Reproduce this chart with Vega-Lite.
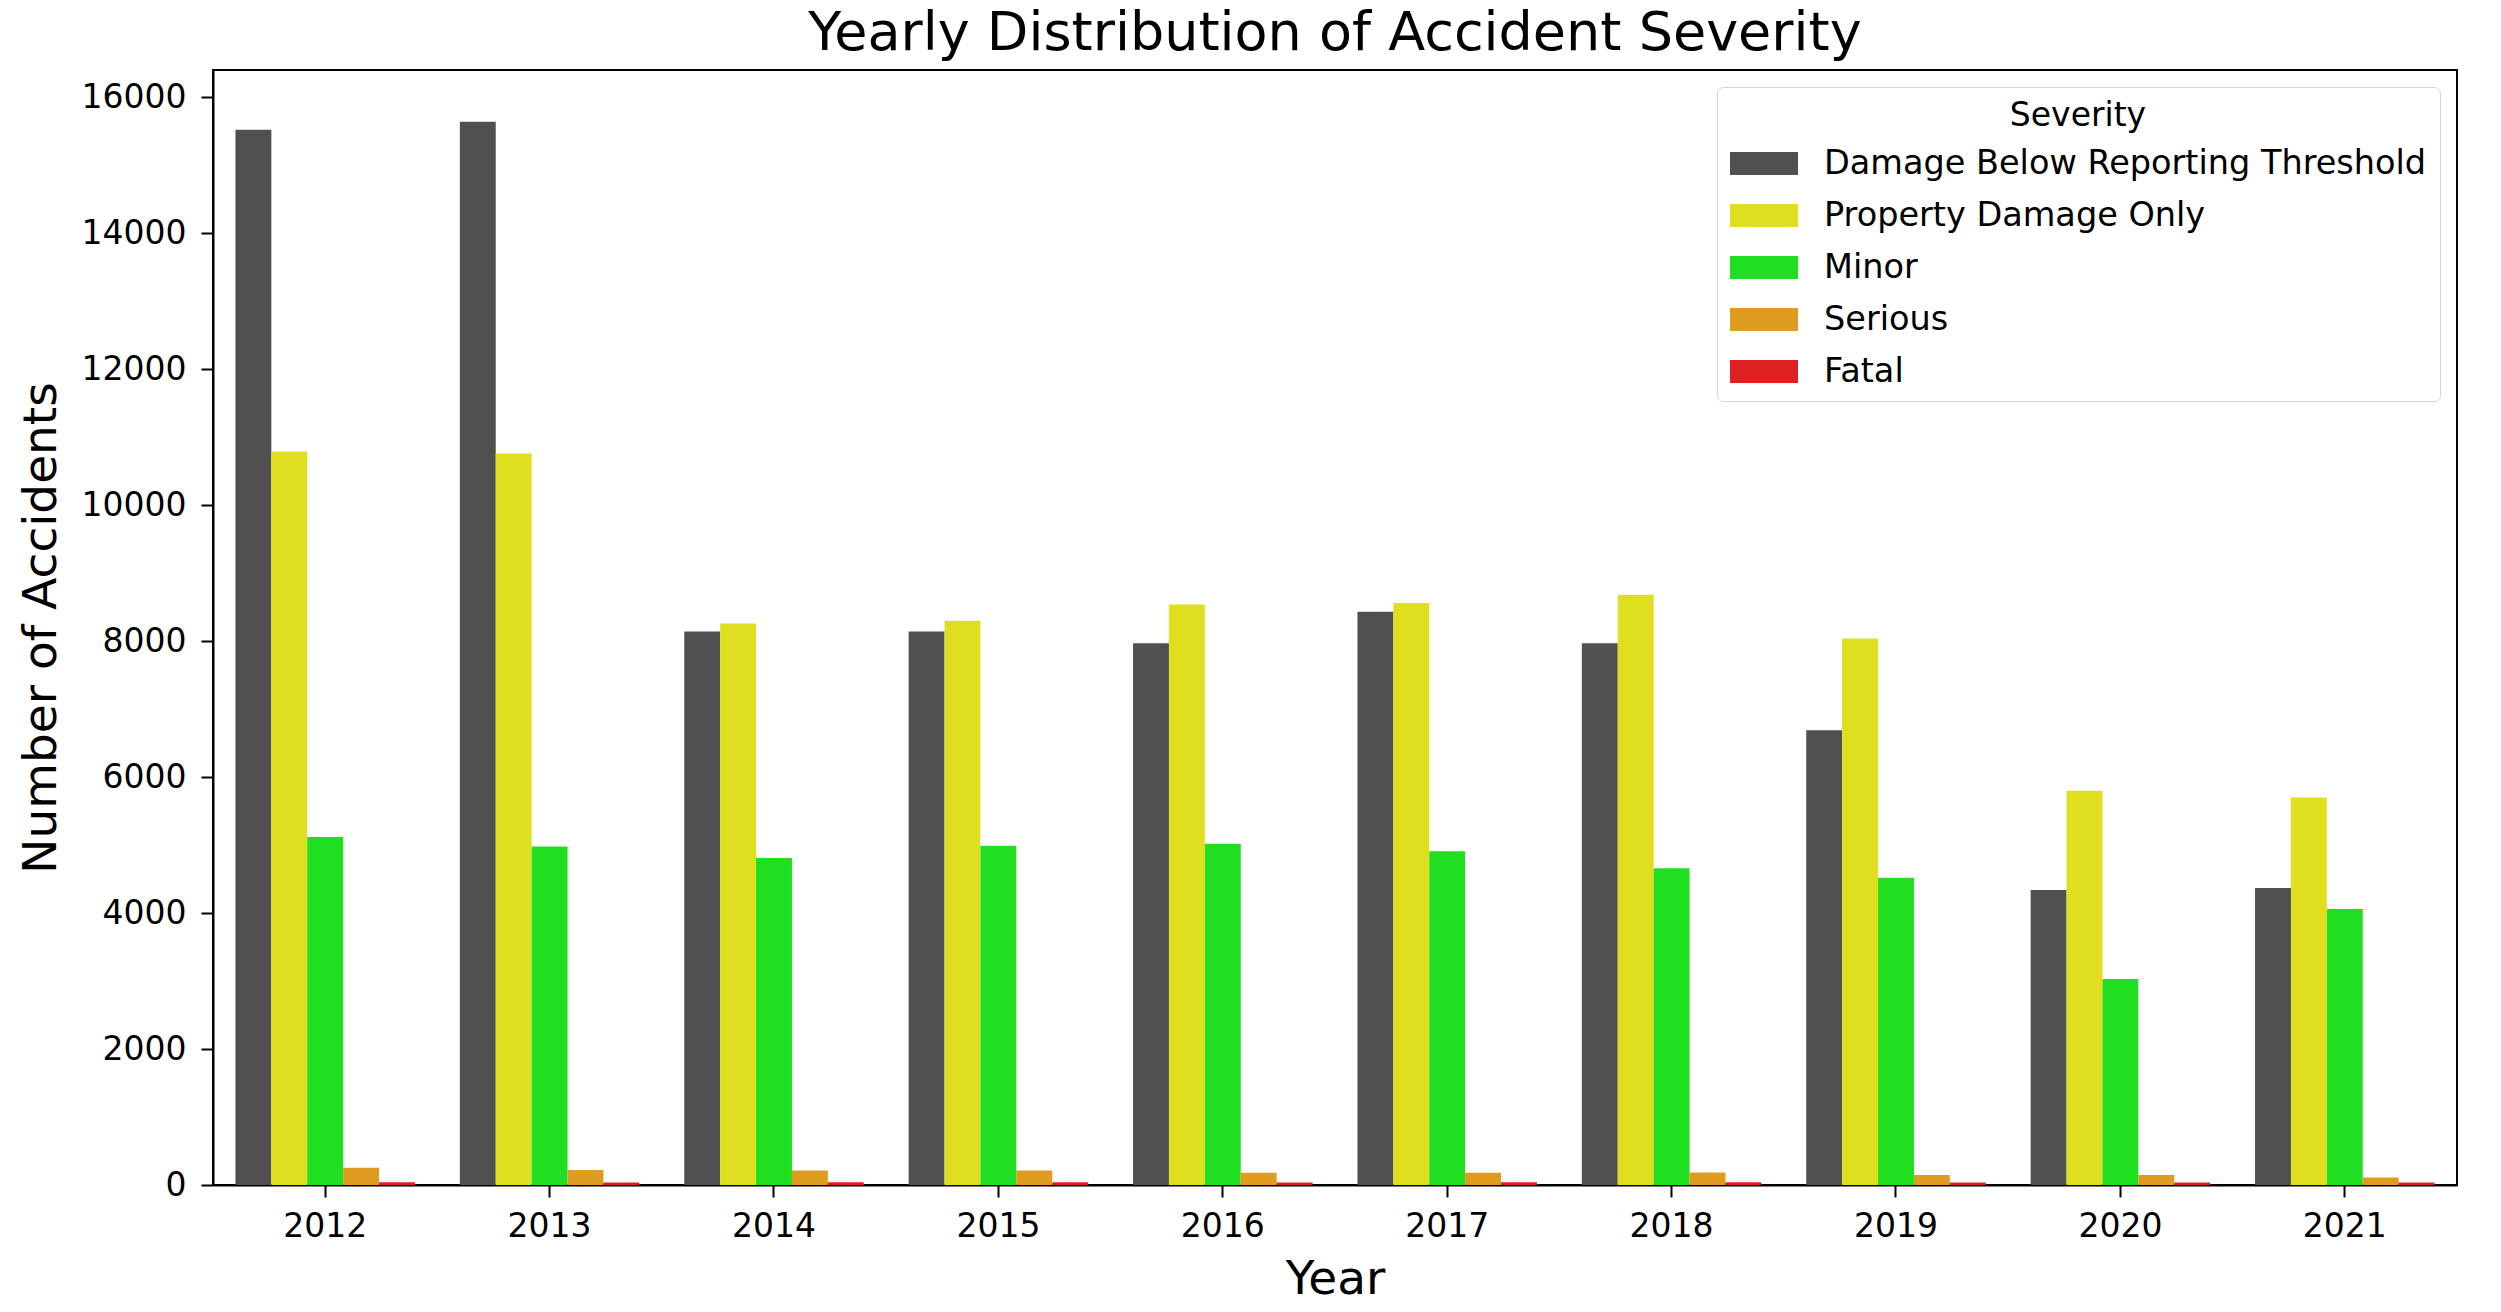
{
  "$schema": "https://vega.github.io/schema/vega-lite/v6.json",
  "autosize": {"type": "none"},
  "width": 2244,
  "height": 1115,
  "padding": {"left": 213, "top": 70, "right": 44, "bottom": 127},
  "background": "white",
  "title": {
    "text": "Yearly Distribution of Accident Severity",
    "font": "DejaVu Sans",
    "fontSize": 54,
    "fontWeight": "normal",
    "color": "#000000",
    "anchor": "middle",
    "frame": "group",
    "baseline": "bottom",
    "offset": 11,
    "dy": 56
  },
  "config": {
    "font": "DejaVu Sans",
    "view": {"stroke": "#000000", "strokeWidth": 2},
    "axis": {
      "labelFont": "DejaVu Sans",
      "titleFont": "DejaVu Sans",
      "labelColor": "#000000",
      "titleColor": "#000000",
      "domainColor": "#000000",
      "domainWidth": 2,
      "tickColor": "#000000",
      "tickWidth": 2,
      "tickSize": 12,
      "labelFontSize": 33,
      "titleFontSize": 47,
      "titleFontWeight": "normal",
      "grid": false
    }
  },
  "data": {
    "values": [
      {"Year": "2012", "Severity": "Damage Below Reporting Threshold", "Count": 15520},
      {"Year": "2012", "Severity": "Property Damage Only", "Count": 10790},
      {"Year": "2012", "Severity": "Minor", "Count": 5120},
      {"Year": "2012", "Severity": "Serious", "Count": 255},
      {"Year": "2012", "Severity": "Fatal", "Count": 42},
      {"Year": "2013", "Severity": "Damage Below Reporting Threshold", "Count": 15640},
      {"Year": "2013", "Severity": "Property Damage Only", "Count": 10760},
      {"Year": "2013", "Severity": "Minor", "Count": 4980},
      {"Year": "2013", "Severity": "Serious", "Count": 220},
      {"Year": "2013", "Severity": "Fatal", "Count": 38},
      {"Year": "2014", "Severity": "Damage Below Reporting Threshold", "Count": 8140},
      {"Year": "2014", "Severity": "Property Damage Only", "Count": 8260},
      {"Year": "2014", "Severity": "Minor", "Count": 4810},
      {"Year": "2014", "Severity": "Serious", "Count": 215},
      {"Year": "2014", "Severity": "Fatal", "Count": 40},
      {"Year": "2015", "Severity": "Damage Below Reporting Threshold", "Count": 8140},
      {"Year": "2015", "Severity": "Property Damage Only", "Count": 8300},
      {"Year": "2015", "Severity": "Minor", "Count": 4990},
      {"Year": "2015", "Severity": "Serious", "Count": 215},
      {"Year": "2015", "Severity": "Fatal", "Count": 41},
      {"Year": "2016", "Severity": "Damage Below Reporting Threshold", "Count": 7970},
      {"Year": "2016", "Severity": "Property Damage Only", "Count": 8540},
      {"Year": "2016", "Severity": "Minor", "Count": 5020},
      {"Year": "2016", "Severity": "Serious", "Count": 180},
      {"Year": "2016", "Severity": "Fatal", "Count": 37},
      {"Year": "2017", "Severity": "Damage Below Reporting Threshold", "Count": 8430},
      {"Year": "2017", "Severity": "Property Damage Only", "Count": 8560},
      {"Year": "2017", "Severity": "Minor", "Count": 4910},
      {"Year": "2017", "Severity": "Serious", "Count": 180},
      {"Year": "2017", "Severity": "Fatal", "Count": 39},
      {"Year": "2018", "Severity": "Damage Below Reporting Threshold", "Count": 7970},
      {"Year": "2018", "Severity": "Property Damage Only", "Count": 8680},
      {"Year": "2018", "Severity": "Minor", "Count": 4660},
      {"Year": "2018", "Severity": "Serious", "Count": 185},
      {"Year": "2018", "Severity": "Fatal", "Count": 40},
      {"Year": "2019", "Severity": "Damage Below Reporting Threshold", "Count": 6690},
      {"Year": "2019", "Severity": "Property Damage Only", "Count": 8040},
      {"Year": "2019", "Severity": "Minor", "Count": 4520},
      {"Year": "2019", "Severity": "Serious", "Count": 148},
      {"Year": "2019", "Severity": "Fatal", "Count": 38},
      {"Year": "2020", "Severity": "Damage Below Reporting Threshold", "Count": 4340},
      {"Year": "2020", "Severity": "Property Damage Only", "Count": 5800},
      {"Year": "2020", "Severity": "Minor", "Count": 3030},
      {"Year": "2020", "Severity": "Serious", "Count": 148},
      {"Year": "2020", "Severity": "Fatal", "Count": 37},
      {"Year": "2021", "Severity": "Damage Below Reporting Threshold", "Count": 4370},
      {"Year": "2021", "Severity": "Property Damage Only", "Count": 5700},
      {"Year": "2021", "Severity": "Minor", "Count": 4060},
      {"Year": "2021", "Severity": "Serious", "Count": 112},
      {"Year": "2021", "Severity": "Fatal", "Count": 35}
    ]
  },
  "mark": {"type": "bar"},
  "encoding": {
    "x": {
      "field": "Year",
      "type": "nominal",
      "scale": {"paddingInner": 0.2, "paddingOuter": 0.1},
      "axis": {"title": "Year", "labelAngle": 0, "labelPadding": 13, "titlePadding": 13}
    },
    "xOffset": {
      "field": "Severity",
      "type": "nominal",
      "sort": ["Damage Below Reporting Threshold", "Property Damage Only", "Minor", "Serious", "Fatal"],
      "scale": {"paddingInner": 0, "paddingOuter": 0}
    },
    "y": {
      "field": "Count",
      "type": "quantitative",
      "scale": {"domain": [0, 16400], "nice": false},
      "axis": {
        "title": "Number of Accidents",
        "values": [0, 2000, 4000, 6000, 8000, 10000, 12000, 14000, 16000],
        "format": "d",
        "labelPadding": 15,
        "titlePadding": 16
      }
    },
    "color": {
      "field": "Severity",
      "type": "nominal",
      "sort": ["Damage Below Reporting Threshold", "Property Damage Only", "Minor", "Serious", "Fatal"],
      "scale": {
        "domain": ["Damage Below Reporting Threshold", "Property Damage Only", "Minor", "Serious", "Fatal"],
        "range": ["#505050", "#dfdf20", "#20df20", "#df9c20", "#df2020"]
      },
      "legend": {
        "title": "Severity",
        "orient": "top-right",
        "offset": 17,
        "padding": 13,
        "fillColor": "rgba(255,255,255,0.85)",
        "strokeColor": "#d4d4d4",
        "cornerRadius": 6,
        "titleFont": "DejaVu Sans",
        "titleFontSize": 33,
        "titleFontWeight": "normal",
        "titleColor": "#000000",
        "titleAnchor": "middle",
        "titleAlign": "center",
        "titlePadding": 14,
        "labelFont": "DejaVu Sans",
        "labelFontSize": 33.5,
        "labelColor": "#000000",
        "labelOffset": 26,
        "labelLimit": 1000,
        "symbolType": "M-1,-0.338H1V0.338H-1Z",
        "symbolSize": 4624,
        "symbolStrokeWidth": 0,
        "symbolOpacity": 1,
        "clipHeight": 33,
        "rowPadding": 18
      }
    }
  }
}
